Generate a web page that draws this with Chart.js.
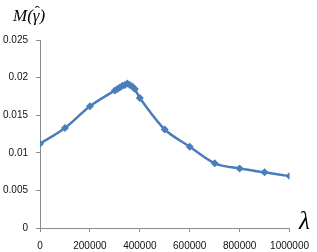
<!DOCTYPE html>
<html><head><meta charset="utf-8">
<script src="https://cdn.jsdelivr.net/npm/chart.js@4/dist/chart.umd.min.js"></script>
<style>
html,body{margin:0;padding:0;background:#fff;}
#wrap{position:relative;width:317px;height:252px;}
canvas{position:absolute;left:0;top:0;}
.lbl{position:absolute;font-family:"Liberation Serif","DejaVu Serif",serif;font-style:italic;color:#000;white-space:nowrap;}
.hat{position:relative;display:inline-block;}
.hat span{position:absolute;left:2px;top:-3px;font-style:normal;font-size:15px;}
</style></head><body>
<div id="wrap">
<canvas id="c" width="317" height="252"></canvas>
<div class="lbl" style="left:13px;top:6px;font-size:17px;">M(<span class="hat">γ<span>ˆ</span></span>)</div>
<div class="lbl" style="left:299px;top:207px;font-size:25px;">λ</div>
</div>
<script>
const lambdaValues = [0,100000,200000,300000,310000,320000,330000,340000,350000,360000,370000,380000,400000,500000,600000,700000,800000,900000,1000000];
const mValues = [0.0112,0.0133,0.0162,0.0183,0.0185,0.0187,0.0189,0.0190,0.0192,0.0190,0.0188,0.0185,0.0173,0.0131,0.0108,0.0086,0.0079,0.0074,0.0069];
const xTickValues = [0,200000,400000,600000,800000,1000000];
const yTickLabels = ["0","0.005","0.01","0.015","0.02","0.025"];

const points = lambdaValues.map((x,i)=>({x:x,y:mValues[i]}));
const blue = '#4a7ebb';
const axisGray = '#8c8c8c';
new Chart(document.getElementById('c'),{
  type:'line',
  data:{datasets:[{data:points,borderColor:blue,backgroundColor:blue,borderWidth:2.5,
    pointStyle:'rectRot',pointRadius:4,pointHoverRadius:4,pointBorderWidth:0,tension:0.3,fill:false}]},
  options:{
    responsive:false,animation:false,
    layout:{padding:{left:0,right:26,top:40,bottom:0}},
    plugins:{legend:{display:false},tooltip:{enabled:false}},
    scales:{
      x:{type:'linear',min:0,max:1000000,
        afterBuildTicks:s=>{s.ticks=xTickValues.map(v=>({value:v}));},
        afterFit:s=>{s.height=24;},
        border:{color:axisGray,width:1},
        grid:{drawOnChartArea:false,drawTicks:true,tickLength:4,color:axisGray},
        ticks:{color:'#111',font:{family:'Liberation Sans',size:10},padding:8,maxRotation:0,callback:v=>String(v)}},
      y:{type:'linear',min:0,max:0.025,
        afterBuildTicks:s=>{s.ticks=yTickLabels.map(v=>({value:parseFloat(v)}));},
        afterFit:s=>{s.width=40;},
        border:{color:axisGray,width:1},
        grid:{drawOnChartArea:false,drawTicks:true,tickLength:4,color:axisGray},
        ticks:{color:'#111',font:{family:'Liberation Sans',size:10},padding:8,
          callback:(v,i)=>yTickLabels[i]}}
    }
  }
});
</script>
</body></html>
